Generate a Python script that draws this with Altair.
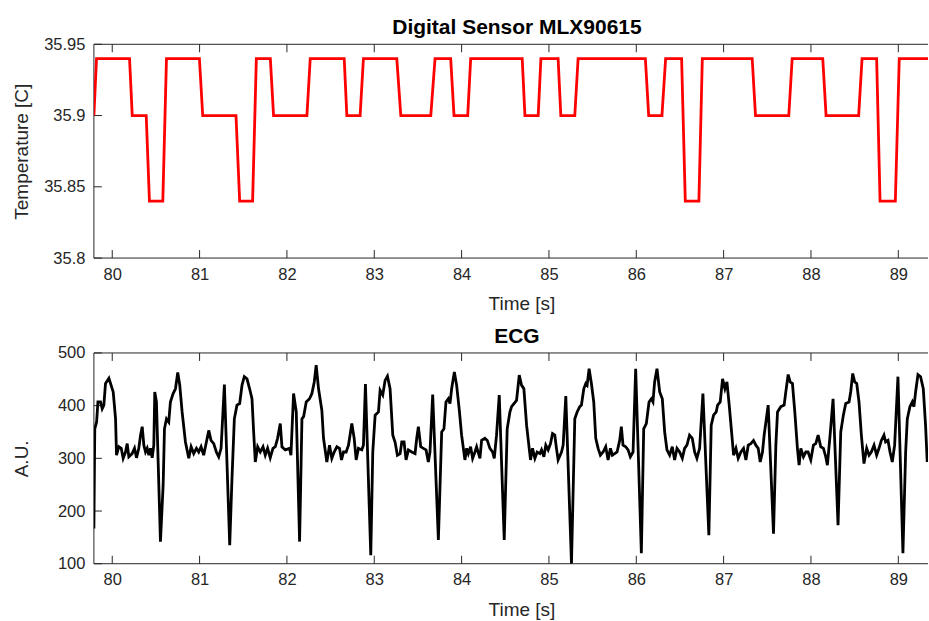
import altair as alt
import pandas as pd

# ---------------- data ----------------
temp_time = [79.79, 79.82, 80.198, 80.229, 80.389, 80.426, 80.579, 80.621, 80.998, 81.036,
             81.417, 81.459, 81.607, 81.650, 81.810, 81.847, 82.229, 82.267, 82.656, 82.686,
             82.838, 82.876, 83.258, 83.304, 83.647, 83.696, 83.875, 83.913, 84.070, 84.104,
             84.694, 84.725, 84.877, 84.908, 85.105, 85.136, 85.296, 85.334, 86.104, 86.142,
             86.294, 86.336, 86.519, 86.561, 86.717, 86.756, 87.327, 87.365, 87.746, 87.785,
             88.135, 88.173, 88.546, 88.585, 88.752, 88.791, 88.966, 89.011, 89.34]
temp_value = [35.90, 35.94, 35.94, 35.90, 35.90, 35.84, 35.84, 35.94, 35.94, 35.90,
              35.90, 35.84, 35.84, 35.94, 35.94, 35.90, 35.90, 35.94, 35.94, 35.90,
              35.90, 35.94, 35.94, 35.90, 35.90, 35.94, 35.94, 35.90, 35.90, 35.94,
              35.94, 35.90, 35.90, 35.94, 35.94, 35.90, 35.90, 35.94, 35.94, 35.90,
              35.90, 35.94, 35.94, 35.84, 35.84, 35.94, 35.94, 35.90, 35.90, 35.94,
              35.94, 35.90, 35.90, 35.94, 35.94, 35.84, 35.84, 35.94, 35.94]

ecg_time = [79.79, 79.80, 79.821, 79.836, 79.866, 79.885, 79.904, 79.923, 79.962, 80.011,
            80.038, 80.049, 80.076, 80.103, 80.125, 80.152, 80.171, 80.190, 80.228, 80.255,
            80.278, 80.304, 80.324, 80.343, 80.362, 80.381, 80.400, 80.419, 80.438, 80.457,
            80.476, 80.487, 80.506, 80.552, 80.583, 80.598, 80.621, 80.647, 80.666, 80.697,
            80.724, 80.750, 80.773, 80.800, 80.838, 80.876, 80.903, 80.933, 80.964, 80.990,
            81.017, 81.047, 81.078, 81.105, 81.131, 81.162, 81.192, 81.219, 81.246, 81.284,
            81.345, 81.371, 81.398, 81.428, 81.459, 81.486, 81.512, 81.543, 81.573, 81.600,
            81.619, 81.638, 81.665, 81.695, 81.726, 81.752, 81.779, 81.809, 81.840, 81.867,
            81.893, 81.924, 81.943, 81.981, 82.030, 82.046, 82.076, 82.107, 82.145, 82.172,
            82.191, 82.221, 82.259, 82.286, 82.313, 82.335, 82.362, 82.400, 82.419, 82.457,
            82.488, 82.514, 82.541, 82.572, 82.602, 82.625, 82.648, 82.678, 82.705, 82.743,
            82.770, 82.793, 82.819, 82.857, 82.876, 82.899, 82.960, 82.983, 83.010, 83.048,
            83.067, 83.097, 83.124, 83.151, 83.181, 83.212, 83.238, 83.265, 83.296, 83.315,
            83.341, 83.364, 83.391, 83.429, 83.467, 83.486, 83.505, 83.532, 83.562, 83.593,
            83.619, 83.638, 83.669, 83.734, 83.772, 83.798, 83.821, 83.848, 83.867, 83.886,
            83.917, 83.943, 83.974, 84.000, 84.038, 84.058, 84.077, 84.103, 84.126, 84.153,
            84.172, 84.210, 84.229, 84.267, 84.294, 84.324, 84.355, 84.374, 84.400, 84.431,
            84.488, 84.522, 84.553, 84.572, 84.629, 84.660, 84.686, 84.713, 84.744, 84.774,
            84.789, 84.812, 84.839, 84.865, 84.896, 84.915, 84.942, 84.964, 84.991, 85.018,
            85.041, 85.067, 85.086, 85.105, 85.144, 85.163, 85.193, 85.258, 85.296, 85.323,
            85.353, 85.372, 85.399, 85.422, 85.437, 85.460, 85.486, 85.513, 85.536, 85.563,
            85.589, 85.620, 85.650, 85.677, 85.704, 85.726, 85.753, 85.780, 85.810, 85.829,
            85.848, 85.879, 85.906, 85.932, 85.963, 85.993, 86.058, 86.085, 86.115, 86.146,
            86.172, 86.191, 86.210, 86.237, 86.268, 86.298, 86.325, 86.351, 86.382, 86.412,
            86.439, 86.466, 86.496, 86.527, 86.553, 86.580, 86.610, 86.641, 86.668, 86.694,
            86.725, 86.763, 86.831, 86.858, 86.885, 86.915, 86.931, 86.961, 86.988, 87.015,
            87.038, 87.064, 87.091, 87.114, 87.141, 87.167, 87.198, 87.228, 87.255, 87.282,
            87.312, 87.342, 87.369, 87.396, 87.419, 87.445, 87.464, 87.510, 87.571, 87.598,
            87.617, 87.655, 87.693, 87.712, 87.739, 87.762, 87.788, 87.815, 87.845, 87.864,
            87.884, 87.914, 87.941, 87.967, 87.998, 88.028, 88.055, 88.082, 88.112, 88.143,
            88.169, 88.188, 88.219, 88.253, 88.310, 88.341, 88.371, 88.398, 88.436, 88.455,
            88.478, 88.501, 88.524, 88.550, 88.577, 88.607, 88.638, 88.665, 88.691, 88.722,
            88.752, 88.779, 88.806, 88.836, 88.855, 88.882, 88.905, 88.931, 88.958, 88.996,
            89.053, 89.084, 89.103, 89.133, 89.160, 89.179, 89.198, 89.225, 89.255, 89.286,
            89.312, 89.331]
ecg_value = [167, 356, 369, 407, 407, 394, 401, 442, 452, 426,
             375, 306, 322, 319, 300, 312, 328, 303, 309, 319,
             301, 319, 344, 360, 325, 312, 319, 306, 319, 301,
             325, 426, 407, 142, 250, 356, 375, 369, 407, 423,
             432, 463, 439, 388, 331, 300, 322, 309, 319, 312,
             322, 306, 331, 353, 334, 328, 312, 303, 319, 440,
             135, 262, 375, 401, 404, 439, 455, 451, 432, 413,
             350, 293, 322, 312, 322, 306, 319, 301, 319, 322,
             338, 366, 322, 316, 319, 306, 423, 388, 142, 375,
             379, 407, 413, 423, 445, 477, 432, 391, 338, 293,
             325, 300, 312, 322, 319, 297, 312, 312, 325, 366,
             338, 297, 319, 316, 325, 441, 116, 312, 382, 388,
             429, 420, 448, 456, 432, 344, 331, 306, 309, 331,
             331, 297, 316, 312, 309, 338, 360, 322, 319, 316,
             293, 312, 421, 145, 350, 356, 407, 413, 404, 432,
             464, 439, 391, 344, 297, 319, 309, 322, 300, 312,
             322, 300, 334, 338, 334, 319, 312, 300, 344, 420,
             145, 356, 388, 398, 410, 458, 439, 432, 363, 319,
             297, 319, 300, 312, 309, 316, 303, 325, 316, 328,
             347, 344, 319, 297, 312, 325, 418, 100, 375, 388,
             398, 401, 432, 442, 439, 470, 442, 407, 338, 319,
             306, 312, 322, 297, 319, 306, 309, 312, 334, 360,
             325, 322, 316, 303, 312, 470, 120, 356, 366, 407,
             413, 407, 445, 470, 426, 413, 350, 316, 306, 322,
             297, 319, 312, 300, 319, 325, 344, 338, 312, 300,
             319, 423, 154, 363, 382, 388, 401, 407, 451, 432,
             445, 401, 350, 306, 319, 300, 312, 319, 297, 325,
             328, 334, 325, 319, 293, 312, 344, 401, 157, 325,
             388, 398, 401, 426, 459, 445, 442, 388, 319, 287,
             319, 303, 312, 312, 297, 325, 328, 344, 322, 319,
             303, 287, 344, 413, 173, 350, 382, 404, 407, 426,
             461, 445, 442, 407, 344, 290, 319, 306, 312, 325,
             306, 319, 334, 344, 331, 334, 312, 293, 325, 455,
             120, 312, 375, 398, 407, 398, 426, 459, 455, 432,
             363, 293]

x_ticks = [80, 81, 82, 83, 84, 85, 86, 87, 88, 89]
temp_ticks = [35.8, 35.85, 35.9, 35.95]
ecg_ticks = [100, 200, 300, 400, 500]
x_domain = [79.79, 89.34]
temp_domain = [35.8, 35.95]
ecg_domain = [100, 500]

# ---------------- style ----------------
FONT = "Liberation Sans"
INK = "#262626"
W = 835
H1 = 214
H2 = 211
TICK = 8


def panel(df, ydomain, yticks, yfmt, ytitle, title, color, H):
    xs = alt.Scale(domain=x_domain, nice=False, zero=False)
    ys = alt.Scale(domain=ydomain, nice=False, zero=False)
    ax_x = alt.Axis(values=x_ticks, format="d", ticks=False, domain=False, grid=False,
                    labelFontSize=16.5, labelPadding=8, labelColor=INK,
                    title="Time [s]", titleFontSize=19, titleFontWeight="normal",
                    titleColor=INK, titlePadding=12, titleX=428)
    ax_y = alt.Axis(values=yticks, format=yfmt, ticks=False, domain=False, grid=False,
                    labelFontSize=16.5, labelPadding=9, labelColor=INK,
                    title=ytitle, titleFontSize=19, titleFontWeight="normal",
                    titleColor=INK, titleX=-62)
    one = pd.DataFrame({"k": [0]})
    xt = pd.DataFrame({"t": x_ticks})
    yt = pd.DataFrame({"v": yticks})

    frame_top = alt.Chart(one).mark_rule(color=INK, strokeWidth=1).encode(
        x=alt.value(0), x2=alt.value(W), y=alt.value(0))
    frame_bottom = alt.Chart(one).mark_rule(color=INK, strokeWidth=1).encode(
        x=alt.value(0), x2=alt.value(W), y=alt.value(H))
    frame_left = alt.Chart(one).mark_rule(color=INK, strokeWidth=1).encode(
        x=alt.value(0), y=alt.value(0), y2=alt.value(H))

    tick_b = alt.Chart(xt).mark_rule(color=INK, strokeWidth=1).encode(
        x=alt.X("t:Q", scale=xs, axis=ax_x), y=alt.value(H), y2=alt.value(H - TICK))
    tick_t = alt.Chart(xt).mark_rule(color=INK, strokeWidth=1).encode(
        x=alt.X("t:Q", scale=xs, axis=ax_x), y=alt.value(0), y2=alt.value(TICK))
    tick_l = alt.Chart(yt).mark_rule(color=INK, strokeWidth=1).encode(
        y=alt.Y("v:Q", scale=ys, axis=ax_y), x=alt.value(0), x2=alt.value(TICK))

    line = alt.Chart(df).mark_line(color=color, strokeWidth=2.8, clip=True).encode(
        x=alt.X("t:Q", scale=xs, axis=ax_x),
        y=alt.Y("v:Q", scale=ys, axis=ax_y),
    )
    return alt.layer(frame_top, frame_bottom, frame_left, tick_b, tick_t, tick_l, line).properties(
        width=W, height=H,
        title=alt.TitleParams(title, fontSize=21, fontWeight="bold", color="#000000",
                              dx=6, dy=8, offset=6, font=FONT))


temp_df = pd.DataFrame({"t": temp_time, "v": temp_value})
ecg_df = pd.DataFrame({"t": ecg_time, "v": ecg_value})

top = panel(temp_df, temp_domain, temp_ticks, ".2~f", "Temperature [C]",
            "Digital Sensor MLX90615", "#ff0000", H1)
bottom = panel(ecg_df, ecg_domain, ecg_ticks, "d", "A.U.", "ECG", "#000000", H2)

chart = alt.vconcat(top, bottom, spacing=12).properties(
    padding={"left": 12, "top": 17, "right": 0, "bottom": 0},
    background="#ffffff",
).configure_view(stroke=None).configure_axis(
    labelFont=FONT, titleFont=FONT
).configure_title(font=FONT)

chart.save("out.html", embed_options={"renderer": "svg", "actions": False})
